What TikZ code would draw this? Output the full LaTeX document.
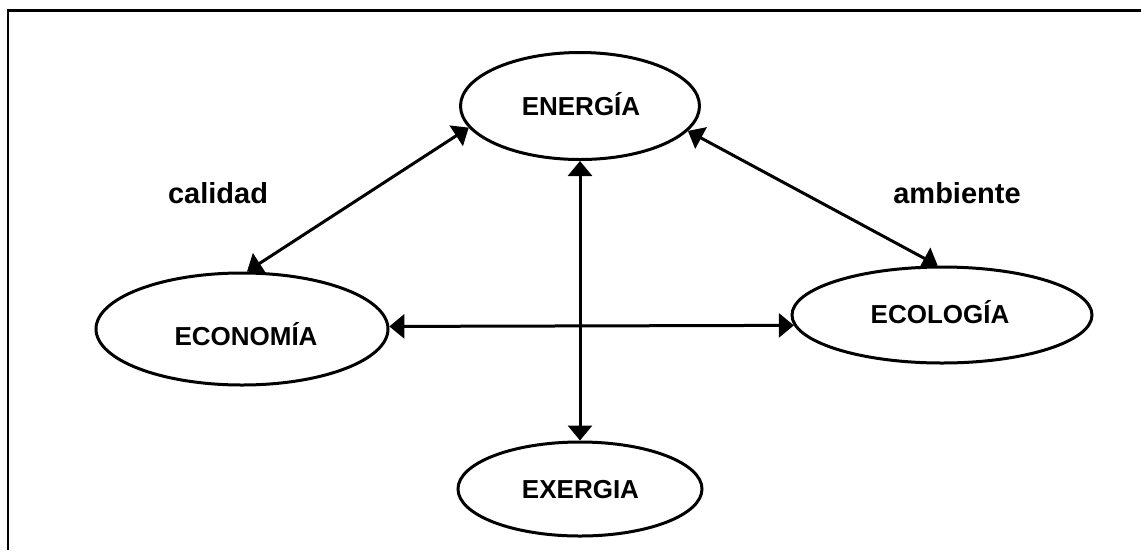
\documentclass[tikz,border=0pt]{standalone}
\usepackage{fontspec}
\setmainfont{Liberation Sans}
\usetikzlibrary{shapes.geometric,arrows.meta}
\tikzset{
  bubble/.style={draw, ellipse, line width=3pt, inner sep=0pt, font=\fontsize{26}{30}\selectfont\bfseries},
  link/.style={line width=3pt, {Triangle[length=15pt,width=24pt]}-{Triangle[length=15pt,width=24pt]}},
  tag/.style={font=\fontsize{26}{30}\selectfont\bfseries, inner sep=0pt},
  bigtag/.style={font=\fontsize{29}{33}\selectfont\bfseries, inner sep=0pt},
  frame/.style={line width=2.3pt}
}
\begin{document}
\begin{tikzpicture}[x=1pt,y=-1pt]
\useasboundingbox (0,0) rectangle (1141,550);
\draw[frame] (8,550) -- (8,10.5) -- (1141,10.5);
\node[bubble, minimum width=239pt, minimum height=107pt] (energia) at (580,106) {};
\node[tag] at (581,104) {ENERGÍA};
\node[bubble, minimum width=292pt, minimum height=112pt] (economia) at (242,329) {};
\node[tag] at (246,334) {ECONOMÍA};
\node[bubble, minimum width=300pt, minimum height=96pt] (ecologia) at (942,315) {};
\node[tag] at (940,312) {ECOLOGÍA};
\node[bubble, minimum width=244pt, minimum height=94pt] (exergia) at (580,489) {};
\node[tag] at (580.5,489.5) {EXERGIA};
\node[bigtag] (calidad) at (218,193) {calidad};
\node[bigtag] (ambiente) at (957,193) {ambiente};
\draw[link] (economia.85) -- (energia.191.7);
\draw[link] (ecologia.95) -- (energia.347.2);
\draw[link] (energia.south) -- (exergia.north);
\draw[link] (economia.1.2) -- (ecologia.184.5);
\end{tikzpicture}
\end{document}
